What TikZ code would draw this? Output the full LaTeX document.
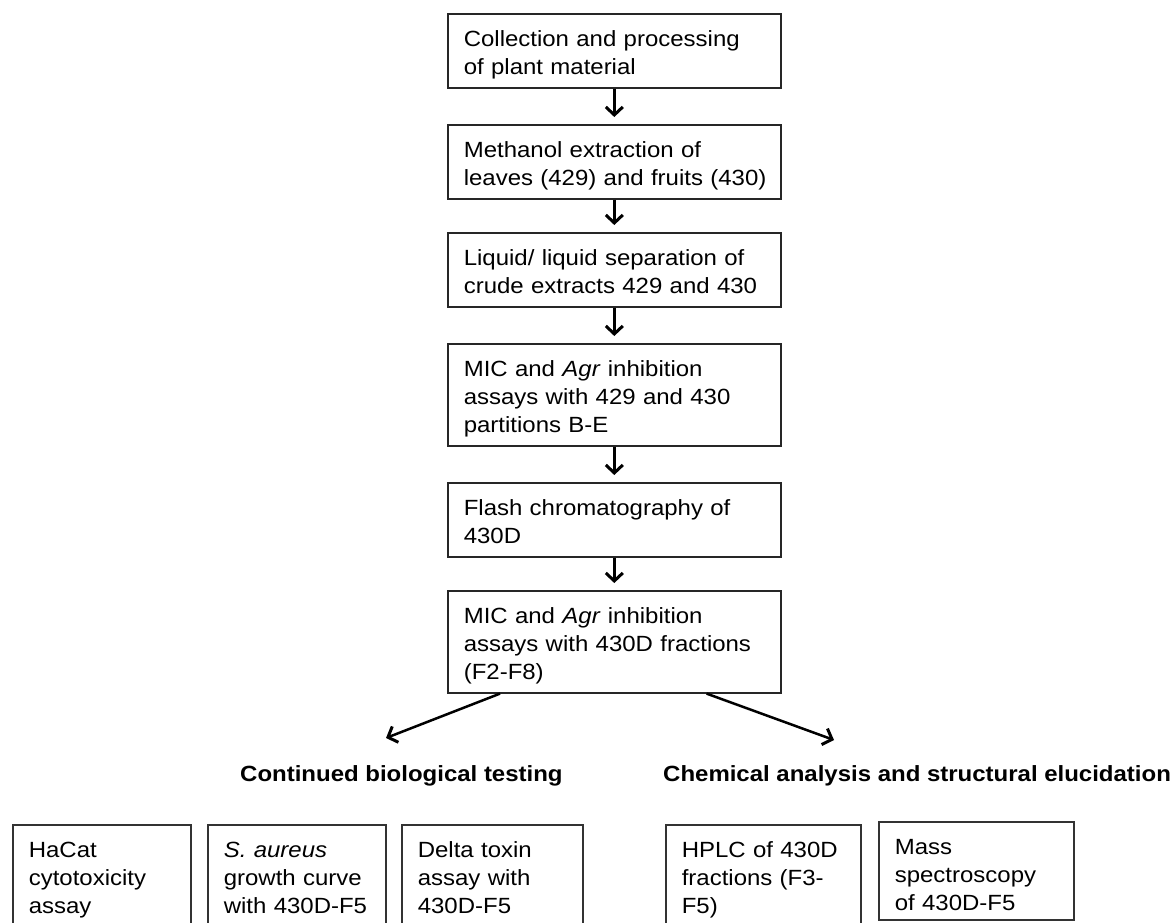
\documentclass[tikz,border=0pt]{standalone}
\usepackage{fontspec}
\setmainfont{Liberation Sans}[FakeStretch=1.09]
\usetikzlibrary{arrows.meta}
\newcommand{\fst}{\rule{0pt}{33pt}}
\newcommand{\lst}{\rule[-13pt]{0pt}{13pt}}
\newcommand{\lcut}{\rule[-30pt]{0pt}{30pt}}
\newcommand{\lmass}{\rule[-9pt]{0pt}{9pt}}
\begin{document}
\begin{tikzpicture}[x=1pt,y=-1pt,
  every node/.style={font=\fontsize{22}{28}\selectfont},
  mainbox/.style={draw=black!85, line width=1.6pt, anchor=north west, align=left,
    inner xsep=16pt, inner ysep=0pt, text width=301pt},
  smallbox/.style={draw=black!80, line width=1.6pt, anchor=north west, align=left,
    inner xsep=16pt, inner ysep=0pt},
  hdr/.style={font=\fontsize{22}{28}\selectfont\bfseries, anchor=base west, inner sep=0pt},
  arr/.style={-{Straight Barb[length=8pt,width=17pt,line width=3pt]}, line width=2.5pt, black}
]
\useasboundingbox (0,0) rectangle (1173,922);
\clip (0,0) rectangle (1173,922);

\node[mainbox] (b1) at (447,13) {\fst Collection and processing\\of plant material\lst};
\node[mainbox] (b2) at (447,124) {\fst Methanol extraction of\\\mbox{leaves (429) and fruits (430)}\lst};
\node[mainbox] (b3) at (447,232) {\fst Liquid/ liquid separation of\\\mbox{crude extracts 429 and 430}\lst};
\node[mainbox] (b4) at (447,343) {\fst MIC and \textit{Agr} inhibition\\assays with 429 and 430\\partitions B-E\lst};
\node[mainbox] (b5) at (447,482) {\fst Flash chromatography of\\430D\lst};
\node[mainbox] (b6) at (447,590) {\fst MIC and \textit{Agr} inhibition\\\mbox{assays with 430D fractions}\\(F2-F8)\lst};

\draw[arr, shorten >=7pt] (b1.south) -- (b2.north);
\draw[arr, shorten >=7pt] (b2.south) -- (b3.north);
\draw[arr, shorten >=7pt] (b3.south) -- (b4.north);
\draw[arr, shorten >=7pt] (b4.south) -- (b5.north);
\draw[arr, shorten >=7pt] (b5.south) -- (b6.north);

\coordinate (tl) at (386,738);
\coordinate (tr) at (834,740);
\draw[arr] ([xshift=53pt]b6.south west) -- (tl);
\draw[arr] ([xshift=-75pt]b6.south east) -- (tr);

\node[hdr] (h1) at (240,781) {Continued biological testing};
\node[hdr] (h2) at (663,781) {Chemical analysis and structural elucidation};

\node[smallbox, text width=146pt] (s1) at (12,824) {\fst HaCat\\cytotoxicity\\assay\lcut};
\node[smallbox, text width=146pt] (s2) at (207,824) {\fst \textit{S. aureus}\\growth curve\\\mbox{with 430D-F5}\lcut};
\node[smallbox, text width=149pt] (s3) at (401,824) {\fst Delta toxin\\assay with\\430D-F5\lcut};
\node[smallbox, text width=163pt] (s4) at (665,824) {\fst HPLC of 430D\\fractions (F3-\\F5)\lcut};
\node[smallbox, text width=163pt] (s5) at (878,821) {\fst Mass\\spectroscopy\\of 430D-F5\lmass};
\end{tikzpicture}
\end{document}
